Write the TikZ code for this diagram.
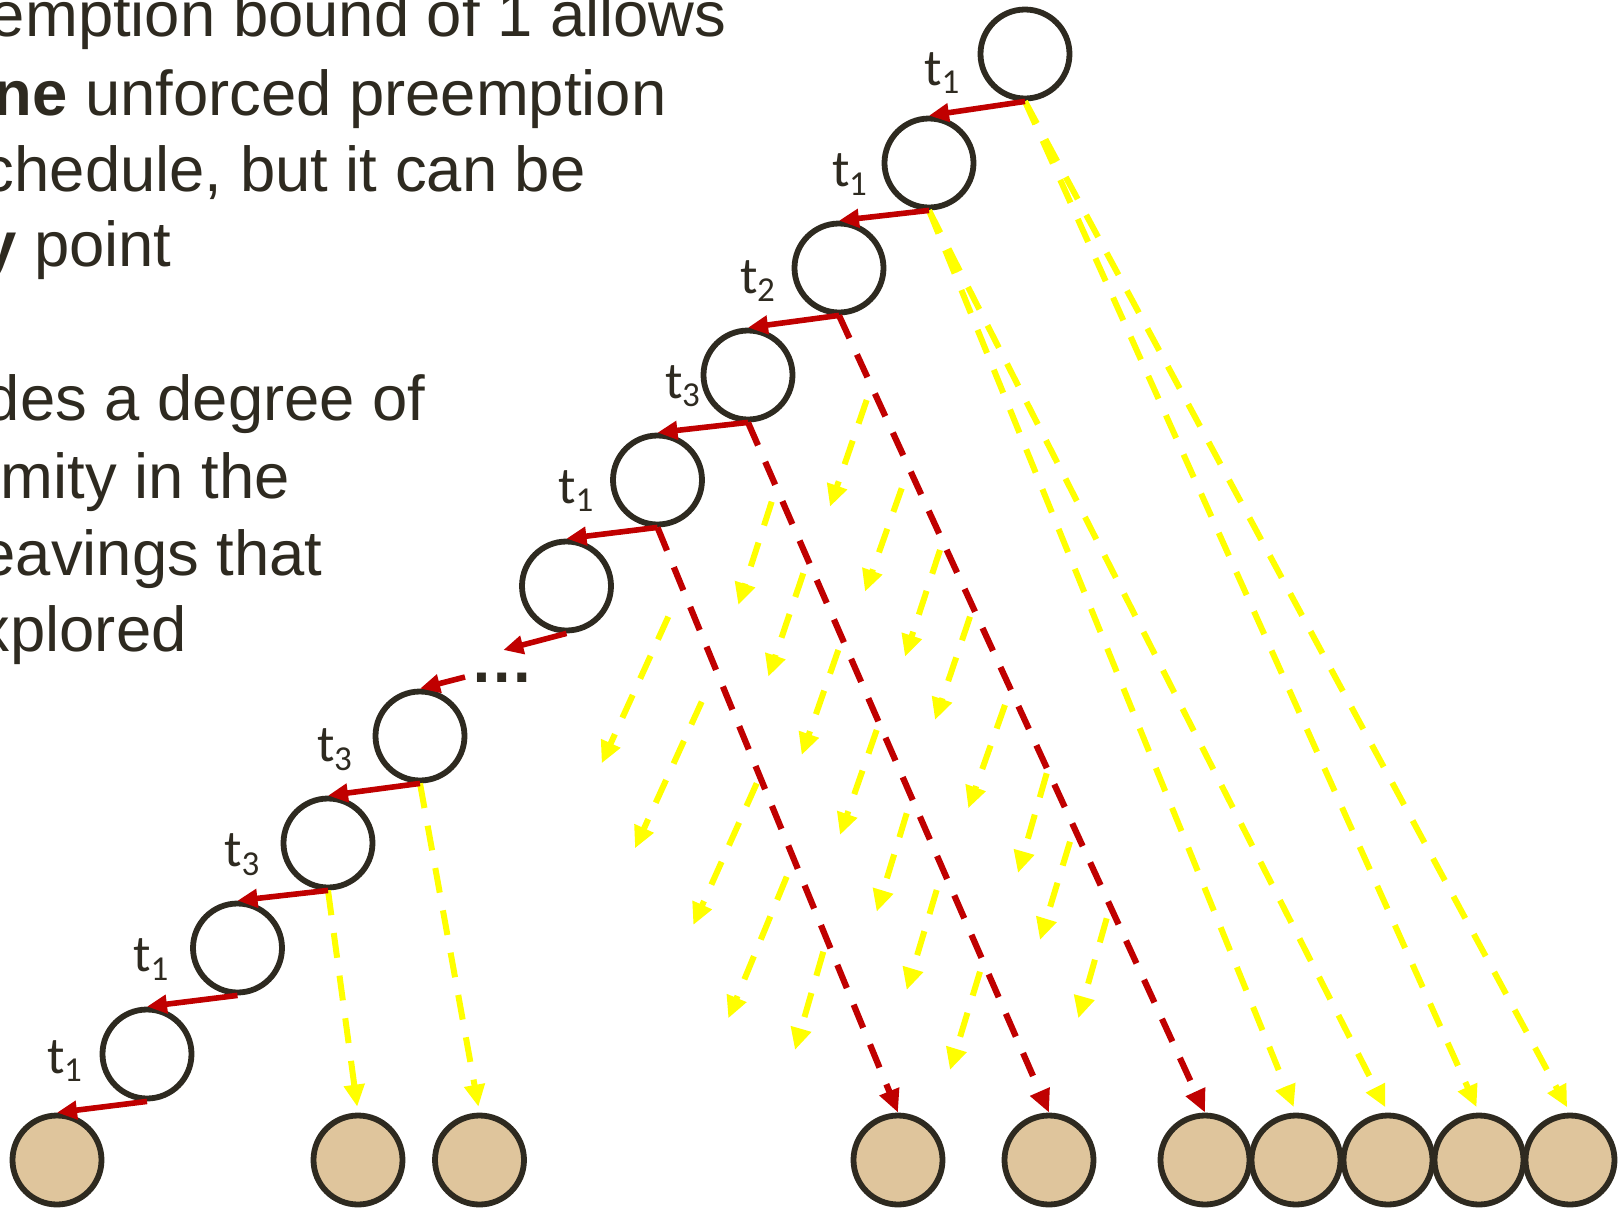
\documentclass[tikz,border=0pt]{standalone}
\usepackage{fontspec}
\setmainfont{Liberation Sans}
\newfontfamily\lblfont{Carlito}
\usetikzlibrary{arrows.meta}
\definecolor{ink}{RGB}{46,42,32}
\definecolor{tred}{RGB}{192,0,0}
\definecolor{tyel}{RGB}{255,255,0}
\definecolor{leaftan}{RGB}{223,197,156}
\newcommand\tlab[1]{t\kern-0.3pt\raisebox{-4.2pt}{\fontsize{17.5}{18}\selectfont #1}}
\begin{document}
\begin{tikzpicture}[x=0.5pt,y=-0.5pt,
  opencirc/.style={circle, draw=ink, line width=2.9pt, fill=white, minimum size=44.5pt, inner sep=0pt},
  leaf/.style={opencirc, fill=leaftan},
  solidarr/.style={draw=tred, line width=2.8pt, -{Triangle[length=10pt,width=9pt]}},
  reddash/.style={draw=tred, line width=3.1pt, dash pattern=on 12.5pt off 9pt, -{Triangle[length=11.5pt,width=10pt]}},
  yeldash/.style={draw=tyel, line width=3pt, dash pattern=on 12.5pt off 9pt, -{Triangle[length=11pt,width=10pt]}, shorten >=3pt},
  branch/.style={yeldash, shorten >=0pt},
  txt/.style={inner sep=0pt, text=ink, font=\fontsize{31.7}{38}\selectfont, anchor=base east},
  lbl/.style={inner sep=0pt, text=ink, font=\lblfont\fontsize{26}{30}\selectfont, anchor=base west}]
\useasboundingbox (0,0) rectangle (1624,1211);
\clip (0,0) rectangle (1624,1211);

% text
\node[txt] (p1) at (727,36.7) {emption bound of 1 allows};
\node[txt] (p2) at (667,115) {{\bfseries ne} unforced preemption};
\node[txt] (p3) at (586,191.7) {chedule, but it can be};
\node[txt] (p4) at (172,266.7) {{\bfseries y} point};
\node[txt] (p5) at (426,420.7) {des a degree of};
\node[txt] (p6) at (290,498.3) {mity in the};
\node[txt] (p7) at (323,575) {eavings that};
\node[txt] (p8) at (187,651.7) {xplored};

% chain nodes
\node[opencirc] (N1) at (1025,54) {};
\node[opencirc] (N2) at (929,163) {};
\node[opencirc] (N3) at (839,268) {};
\node[opencirc] (N4) at (748,375) {};
\node[opencirc] (N5) at (657.5,480) {};
\node[opencirc] (N6) at (566.5,586) {};
\node[opencirc] (N7) at (420,736) {};
\node[opencirc] (N8) at (328,843) {};
\node[opencirc] (N9) at (237.5,948) {};
\node[opencirc] (N10) at (147,1054) {};
\node[inner sep=0pt, text=ink, font=\bfseries\fontsize{31.7}{38}\selectfont, anchor=base] (dots) at (501.7,682.3) {…};
\coordinate (d1) at (503.3,650);
\coordinate (d2) at (465,677);

% leaves
\node[leaf] (L1) at (57,1160) {};
\node[leaf] (L2) at (358,1160) {};
\node[leaf] (L3) at (479.5,1160) {};
\node[leaf] (L4) at (898,1160) {};
\node[leaf] (L5) at (1049,1160) {};
\node[leaf] (R1) at (1205,1160) {};
\node[leaf] (R2) at (1296,1160) {};
\node[leaf] (R3) at (1388,1160) {};
\node[leaf] (R4) at (1479,1160) {};
\node[leaf] (R5) at (1570,1160) {};

% labels
\node[lbl] (la2) at (924.5,85) {\tlab{1}};
\node[lbl] (la3) at (832,186.7) {\tlab{1}};
\node[lbl] (la4) at (740,293.3) {\tlab{2}};
\node[lbl] (la5) at (665,398.3) {\tlab{3}};
\node[lbl] (la6) at (558.5,503.3) {\tlab{1}};
\node[lbl] (la8) at (317,761.7) {\tlab{3}};
\node[lbl] (la9) at (224.5,866.7) {\tlab{3}};
\node[lbl] (la10) at (133.5,971.7) {\tlab{1}};
\node[lbl] (laL) at (47,1073.3) {\tlab{1}};

% red dashed paths
\draw[reddash] (N3.south) -- (R1.north);
\draw[reddash] (N4.south) -- (L5.north);
\draw[reddash] (N5.south) -- (L4.north);

% long yellow paths
\draw[yeldash] (N1.south) -- (R4.north);
\draw[yeldash] (N1.south) -- (R5.north);
\draw[yeldash] (N2.south) -- (R2.north);
\draw[yeldash] (N2.south) -- (R3.north);
\draw[yeldash] (N7.south) -- (L3.north);
\draw[yeldash] (N8.south) -- (L2.north);

% short yellow branches
\foreach \n/\sx/\sy/\ex/\ey in {
  a/866.7/400/830/506.7, c/901.7/488.3/865/591.7, f/940/550/905/656.7,
  i/970/616.7/935/720, k/1005/705/968.3/808.3, n/1046.7/773.3/1018/873,
  p/1070/841.7/1040/940, q/1106.7/918.3/1078.3/1018.3,
  b/771.7/501.7/738.3/605, e/803.3/573.3/768.3/676.7, h/838.3/650/801.7/755,
  j/876.7/730/840/835, m/906.7/813.3/876.7/911.7, r/936.7/890/906.7/990,
  s/980/971.7/950/1070,
  d/668.3/616.7/601.7/763.3, g/701.7/701.7/635/848.3, l/756.7/783.3/693.3/925,
  o/786.7/876.7/728.3/1018.3, t/823.3/951.7/795/1050}{
  \coordinate (ys\n) at (\sx,\sy);
  \coordinate (ye\n) at (\ex,\ey);
  \draw[branch] (ys\n) -- (ye\n);
}

% solid red chain
\draw[solidarr] (N1.south) -- (N2.north);
\draw[solidarr] (N2.south) -- (N3.north);
\draw[solidarr] (N3.south) -- (N4.north);
\draw[solidarr] (N4.south) -- (N5.north);
\draw[solidarr] (N5.south) -- (N6.north);
\draw[solidarr] (N6.south) -- (d1);
\draw[solidarr] (d2) -- (N7.north);
\draw[solidarr] (N7.south) -- (N8.north);
\draw[solidarr] (N8.south) -- (N9.north);
\draw[solidarr] (N9.south) -- (N10.north);
\draw[solidarr] (N10.south) -- (L1.north);
\end{tikzpicture}
\end{document}
